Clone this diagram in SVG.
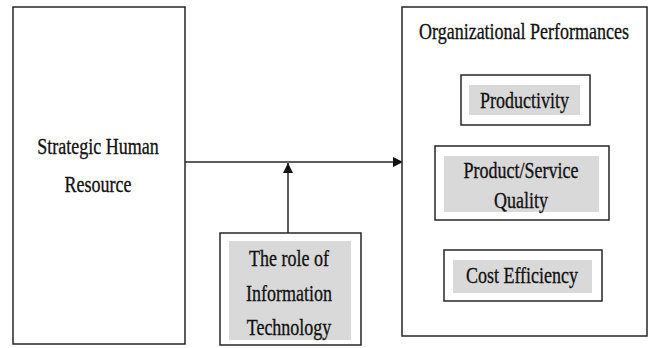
<svg xmlns="http://www.w3.org/2000/svg" width="649" height="348" viewBox="0 0 649 348">
<defs>
<style>
.box{fill:#fff;stroke:#262626;stroke-width:1.5}
.shade{fill:#d9d9d9;stroke:none}
.t{font-family:'Liberation Serif','Times New Roman',serif;font-size:18px;fill:#111;stroke:#111;stroke-width:0.25;text-anchor:middle}
.line{stroke:#262626;stroke-width:1.5;fill:none}
</style>
<marker id="ah" viewBox="0 0 10 10" refX="10" refY="5" markerWidth="10" markerHeight="10" markerUnits="userSpaceOnUse" orient="auto">
<path d="M0,0 L10,5 L0,10 z" fill="#111"/>
</marker>
</defs>
<rect width="649" height="348" fill="#fff"/>
<g id="connectors">
<line class="line" x1="185" y1="162" x2="403" y2="162" marker-end="url(#ah)"/>
<line class="line" x1="288" y1="233" x2="288" y2="163" marker-end="url(#ah)"/>
</g>
<g id="shr">
<rect class="box" x="13" y="7" width="172" height="337"/>
<text class="t" font-family="Liberation Serif, serif" transform="translate(98,154) scale(1,1.25)">Strategic Human</text>
<text class="t" font-family="Liberation Serif, serif" transform="translate(98,192) scale(1,1.25)">Resource</text>
</g>
<g id="it">
<rect class="box" x="220" y="233" width="141" height="112"/>
<rect class="shade" x="229" y="241" width="122" height="99"/>
<text class="t" transform="translate(289,266) scale(1,1.25)">The role of</text>
<text class="t" transform="translate(289,301) scale(1,1.25)">Information</text>
<text class="t" transform="translate(289,335) scale(1,1.25)">Technology</text>
</g>
<g id="org">
<rect class="box" x="402" y="7" width="245" height="329"/>
<text class="t" transform="translate(524,39) scale(1,1.25)">Organizational Performances</text>
</g>
<g id="productivity">
<rect class="box" x="461" y="75" width="129" height="50"/>
<rect class="shade" x="469" y="85" width="111" height="30"/>
<text class="t" transform="translate(524.5,108) scale(1,1.25)">Productivity</text>
</g>
<g id="quality">
<rect class="box" x="435" y="146" width="174" height="74"/>
<rect class="shade" x="444" y="156" width="155" height="56"/>
<text class="t" transform="translate(521,178) scale(1,1.25)">Product/Service</text>
<text class="t" transform="translate(521,208) scale(1,1.25)">Quality</text>
</g>
<g id="cost">
<rect class="box" x="444" y="250" width="158" height="51"/>
<rect class="shade" x="453" y="260" width="139" height="33"/>
<text class="t" transform="translate(522,283) scale(1,1.25)">Cost Efficiency</text>
</g>
</svg>
